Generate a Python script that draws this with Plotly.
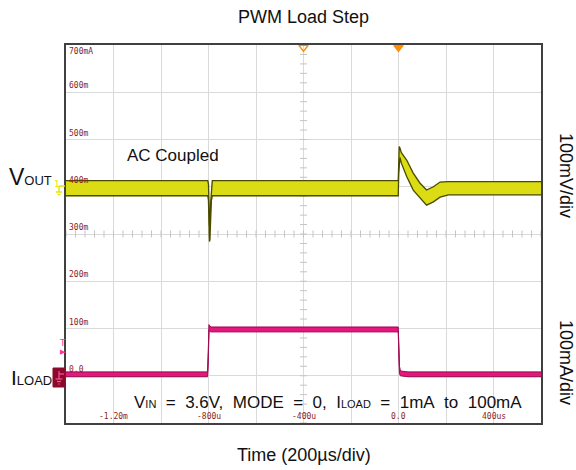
import plotly.graph_objects as go

# ---------------- data ----------------
# time in microseconds, amplitudes in graticule units (100 per division)
vout_t  = [-1400, -803, -800, -798, -796, -794, -791, -788, -784, -1, 1, 3, 6, 12, 35, 62, 90, 118, 147, 175, 210, 600]
vout_hi = [413, 413, 405, 360, 318, 322, 365, 400, 413, 413, 470, 485, 482, 472, 456, 429, 408, 393, 400, 410, 411, 411]
vout_lo = [381, 381, 372, 330, 284, 288, 330, 370, 381, 381, 430, 460, 462, 450, 421, 393, 376, 361, 368, 378, 383, 383]

iload_t  = [-1400, -804, -801, -798, -795, -790, -1, 1, 4, 8, 20, 40, 600]
iload_hi = [8, 8, 50, 108, 106, 103, 103, 70, 20, 10, 9, 8, 8]
iload_lo = [-2, -2, 30, 96, 94, 93, 93, 50, 5, 0, -1, -2, -2]

y_tick_vals = [700, 600, 500, 400, 300, 200, 100, 0]
y_tick_text = ["700mA", "600m", "500m", "400m", "300m", "200m", "100m", "0.0"]
x_tick_vals = [-1200, -800, -400, 0, 400]
x_tick_text = ["-1.20m", "-800u", "-400u", "0.0", "400us"]

X_RANGE = [-1400, 600]
Y_RANGE = [-100, 700]

# ---------------- layout helpers ----------------
W, H = 576, 470
L, R, T, B = 66, 541, 45, 423


def px(x):
    return (x - L) / (R - L)


def py(y):
    return (B - y) / (B - T)


fig = go.Figure()

# graticule minor ticks on the centre cross
cx = (X_RANGE[0] + X_RANGE[1]) / 2
cy = (Y_RANGE[0] + Y_RANGE[1]) / 2
xdiv = (X_RANGE[1] - X_RANGE[0]) / 10
ydiv = (Y_RANGE[1] - Y_RANGE[0]) / 8
mx = [X_RANGE[0] + k * xdiv / 5 for k in range(51)]
my = [Y_RANGE[0] + k * ydiv / 5 for k in range(41)]
fig.add_trace(go.Scatter(x=mx, y=[cy] * len(mx), mode="markers", hoverinfo="skip",
                         marker=dict(symbol="line-ns", size=5, line=dict(color="#c4c4c4", width=1))))
fig.add_trace(go.Scatter(x=[cx] * len(my), y=my, mode="markers", hoverinfo="skip",
                         marker=dict(symbol="line-ew", size=5, line=dict(color="#c4c4c4", width=1))))


def band(t, hi, lo, fill, edge, ew):
    fig.add_trace(go.Scatter(x=list(t) + list(t[::-1]), y=list(hi) + list(lo[::-1]),
                             fill="toself", fillcolor=fill, mode="lines",
                             line=dict(color=fill, width=0.5), hoverinfo="skip"))
    fig.add_trace(go.Scatter(x=t, y=hi, mode="lines", line=dict(color=edge, width=ew), hoverinfo="skip"))
    fig.add_trace(go.Scatter(x=t, y=lo, mode="lines", line=dict(color=edge, width=ew), hoverinfo="skip"))


band(vout_t, vout_hi, vout_lo, "#dcdc14", "#4a4a00", 1.3)
band(iload_t, iload_hi, iload_lo, "#e2187f", "#9a0f50", 1.0)

# top trigger/position markers
fig.add_trace(go.Scatter(x=[-400, 0], y=[Y_RANGE[1] - 5, Y_RANGE[1] - 5], mode="markers", cliponaxis=False,
                         hoverinfo="skip",
                         marker=dict(symbol=["triangle-down-open", "triangle-down"], size=8,
                                     color="#ff8c00", line=dict(color="#ff8c00", width=1.5))))

ann = []
tick_font = dict(family="DejaVu Sans Mono", size=8, color="#8c1c1c")
for v, s in zip(y_tick_vals, y_tick_text):
    ann.append(dict(x=X_RANGE[0], y=v, xref="x", yref="y", text=s, showarrow=False,
                    xanchor="left", yanchor="top" if v == Y_RANGE[1] else "bottom",
                    xshift=1, yshift=0, font=tick_font))
for v, s in zip(x_tick_vals, x_tick_text):
    ann.append(dict(x=v, y=Y_RANGE[0], xref="x", yref="y", text=s, showarrow=False,
                    xanchor="center", yanchor="bottom", yshift=0, font=tick_font))

txt = dict(family="Liberation Sans, Arial", color="#111111")
ann += [
    dict(x=px(303.5), y=py(17), text="PWM Load Step", font=dict(txt, size=18)),
    dict(x=px(125), y=py(155), text="AC Coupled", xanchor="left", font=dict(txt, size=17)),
    dict(x=px(7), y=py(177), text="V<span style='font-size:13px'>OUT</span>", xanchor="left",
         font=dict(txt, size=23)),
    dict(x=px(9), y=py(377), text="I<span style='font-size:13px'>LOAD</span>", xanchor="left",
         font=dict(txt, size=21)),
    dict(x=px(328), y=py(402),
         text="V<span style='font-size:11px'>IN</span>\u00a0 =\u00a0 3.6V,\u00a0 MODE\u00a0 =\u00a0 0,\u00a0 "
              "I<span style='font-size:11px'>LOAD</span>\u00a0 =\u00a0 1mA\u00a0 to\u00a0 100mA",
         font=dict(txt, size=17)),
    dict(x=px(566), y=py(175), text="100mV/div", textangle=90, font=dict(txt, size=18)),
    dict(x=px(566), y=py(362), text="100mA/div", textangle=90, font=dict(txt, size=18)),
    dict(x=px(303.5), y=py(455), text="Time (200µs/div)", font=dict(txt, size=18)),
    dict(x=px(57), y=py(184), text="1", font=dict(family="DejaVu Sans", size=9, color="#e6e600")),
    dict(x=px(62.5), y=py(343), text="T", font=dict(family="DejaVu Sans", size=9, color="#ff3399")),
    dict(x=px(62.5), y=py(352), text="▶", font=dict(family="DejaVu Sans", size=7, color="#ff3399")),
]
for a in ann:
    a.setdefault("xref", "paper")
    a.setdefault("yref", "paper")
    a.setdefault("showarrow", False)
    a.setdefault("xanchor", "center")
    a.setdefault("yanchor", "middle")

shapes = [
    # VOUT ground marker (yellow)
    dict(type="line", x0=px(59), x1=px(65), y0=py(186), y1=py(186), line=dict(color="#e6e600", width=1.5)),
    dict(type="line", x0=px(59), x1=px(59), y0=py(186), y1=py(192), line=dict(color="#e6e600", width=1.5)),
    dict(type="line", x0=px(56), x1=px(62), y0=py(192), y1=py(192), line=dict(color="#e6e600", width=1.5)),
    dict(type="line", x0=px(57.5), x1=px(60.5), y0=py(194.5), y1=py(194.5), line=dict(color="#e6e600", width=1.5)),
    # ILOAD marker box
    dict(type="rect", x0=px(53), x1=px(65), y0=py(387), y1=py(368), fillcolor="#8b0a2a",
         line=dict(color="#8b0a2a", width=1)),
    dict(type="line", x0=px(59), x1=px(64), y0=py(374), y1=py(374), line=dict(color="#ff4fa0", width=1.2)),
    dict(type="line", x0=px(59), x1=px(59), y0=py(371), y1=py(379), line=dict(color="#ff4fa0", width=1.2)),
    dict(type="line", x0=px(55.5), x1=px(62.5), y0=py(379), y1=py(379), line=dict(color="#ff4fa0", width=1.2)),
    dict(type="line", x0=px(57), x1=px(61), y0=py(381.5), y1=py(381.5), line=dict(color="#ff4fa0", width=1.2)),
    dict(type="line", x0=px(58.2), x1=px(59.8), y0=py(384), y1=py(384), line=dict(color="#ff4fa0", width=1.2)),
]
for s in shapes:
    s["xref"] = "paper"
    s["yref"] = "paper"

axis_common = dict(showgrid=True, gridcolor="#dadada", gridwidth=1, zeroline=False,
                   showticklabels=False, ticks="", showline=True, linecolor="#404040",
                   linewidth=1.5, mirror=True, fixedrange=True)

fig.update_layout(
    width=W, height=H,
    margin=dict(l=L, r=W - R, t=T, b=H - B),
    paper_bgcolor="white", plot_bgcolor="white",
    showlegend=False,
    xaxis=dict(axis_common, range=X_RANGE, dtick=200, tick0=0),
    yaxis=dict(axis_common, range=Y_RANGE, dtick=100, tick0=0),
    annotations=ann,
    shapes=shapes,
)

fig.write_html("out.html")
